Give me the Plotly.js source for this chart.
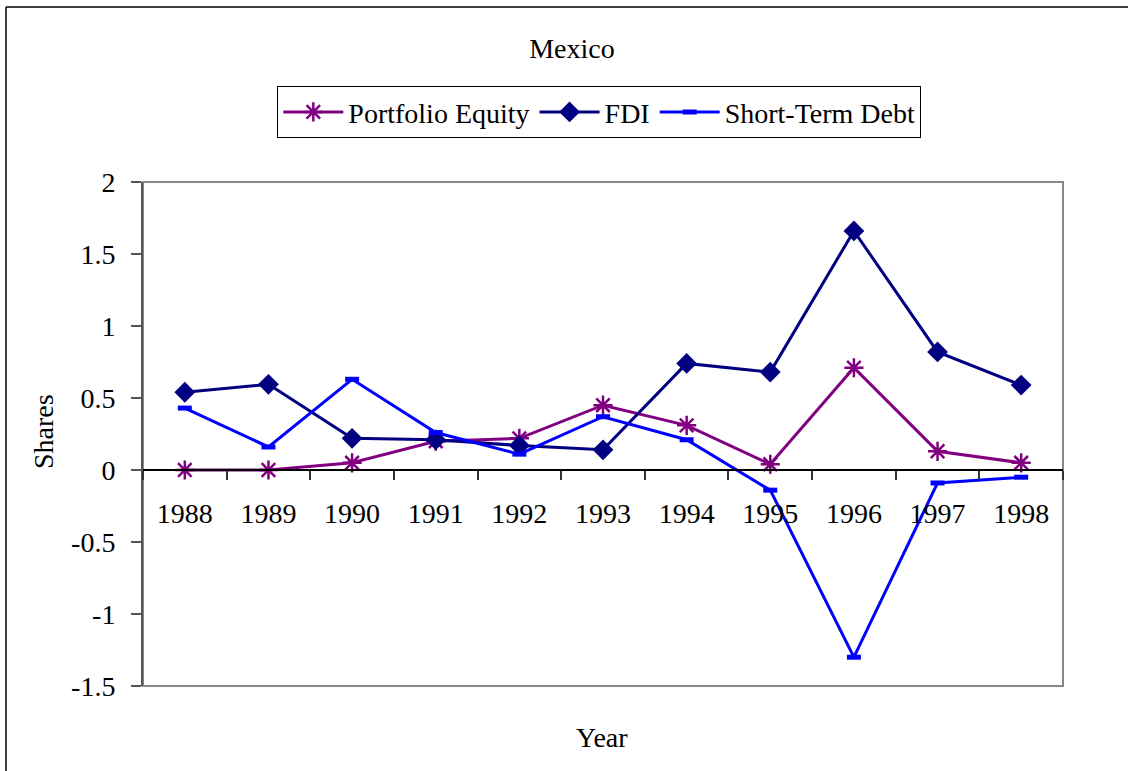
<!DOCTYPE html>
<html>
<head>
<meta charset="utf-8">
<script src="https://cdn.plot.ly/plotly-3.0.1.min.js"></script>
<style>
  html, body { margin: 0; padding: 0; background: #ffffff; }
  #chart { width: 1128px; height: 771px; }
</style>
</head>
<body>
<div id="chart"></div>
<script>
const years = ['1988', '1989', '1990', '1991', '1992', '1993', '1994', '1995', '1996', '1997', '1998'];
const portfolioEquity = [0, 0, 0.05, 0.20, 0.22, 0.45, 0.31, 0.04, 0.71, 0.13, 0.05];
const fdi = [0.54, 0.595, 0.22, 0.21, 0.17, 0.14, 0.74, 0.68, 1.66, 0.82, 0.59];
const shortTermDebt = [0.43, 0.16, 0.63, 0.26, 0.11, 0.37, 0.21, -0.14, -1.30, -0.09, -0.05];
const yTickVals = [-1.5, -1, -0.5, 0, 0.5, 1, 1.5, 2];
const yTickText = ['-1.5', '-1', '-0.5', '0', '0.5', '1', '1.5', '2'];

const FONT = '"Liberation Serif", "Times New Roman", Times, serif';

const traces = [
  {
    x: years, y: portfolioEquity, name: 'Portfolio Equity', type: 'scatter', mode: 'lines+markers',
    line: { color: '#800080', width: 3 },
    marker: { symbol: 'asterisk-open', size: 16, color: '#800080', line: { color: '#800080', width: 2.5 } }
  },
  {
    x: years, y: fdi, name: 'FDI', type: 'scatter', mode: 'lines+markers',
    line: { color: '#000080', width: 3 },
    marker: { symbol: 'diamond', size: 16, color: '#000080' }
  },
  {
    x: years, y: shortTermDebt, name: 'Short-Term Debt', type: 'scatter', mode: 'lines+markers',
    line: { color: '#0000FF', width: 3 },
    marker: { symbol: 'line-ew-open', size: 10, color: '#0000FF', line: { color: '#0000FF', width: 5 } }
  }
];

const layout = {
  width: 1128, height: 771,
  paper_bgcolor: '#ffffff', plot_bgcolor: '#ffffff',
  margin: { l: 143, r: 65, t: 182, b: 85 },
  font: { family: FONT, size: 28, color: '#000000' },
  title: {
    text: 'Mexico', font: { family: FONT, size: 28, color: '#000000' },
    xref: 'container', yref: 'container', x: 0.507, y: 0.938, xanchor: 'center', yanchor: 'middle'
  },
  showlegend: true,
  legend: {
    orientation: 'h', x: 0.496, y: 1.19, xanchor: 'center', yanchor: 'top',
    bordercolor: '#000000', borderwidth: 1, bgcolor: '#ffffff',
    font: { family: FONT, size: 28, color: '#000000' },
    itemwidth: 60, tracegroupgap: 0
  },
  xaxis: {
    type: 'category', range: [-0.5, 10.5], anchor: 'free', position: 1.5 / 3.5,
    showline: true, linecolor: '#000000', linewidth: 1.5,
    ticks: 'outside', tickson: 'boundaries', ticklen: 9, tickcolor: '#333333', tickwidth: 1.5,
    ticklabelstandoff: 19,
    showgrid: false, zeroline: false,
    tickfont: { family: FONT, size: 28, color: '#000000' }
  },
  yaxis: {
    range: [-1.5, 2], tickvals: yTickVals, ticktext: yTickText,
    showline: true, linecolor: '#555555', linewidth: 2,
    ticks: 'outside', ticklen: 10, tickcolor: '#555555', tickwidth: 1.5,
    ticklabelstandoff: 10,
    showgrid: false, zeroline: false,
    tickfont: { family: FONT, size: 28, color: '#000000' }
  },
  shapes: [
    { type: 'rect', xref: 'paper', yref: 'paper', x0: 0, x1: 1, y0: 0, y1: 1,
      line: { color: '#888888', width: 2 }, layer: 'below' },
    { type: 'line', xref: 'paper', yref: 'paper', x0: -0.1489, x1: 1.08, y0: 1.3472, y1: 1.3472,
      line: { color: '#000000', width: 1.5 } },
    { type: 'line', xref: 'paper', yref: 'paper', x0: -0.1489, x1: -0.1489, y0: 1.3472, y1: -0.18,
      line: { color: '#000000', width: 1.5 } }
  ],
  annotations: [
    { text: 'Year', xref: 'paper', yref: 'paper', x: (602 - 143) / 920, y: (686 - 737) / 504,
      xanchor: 'center', yanchor: 'middle', showarrow: false,
      font: { family: FONT, size: 28, color: '#000000' } },
    { text: 'Shares', xref: 'paper', yref: 'paper', x: (43 - 143) / 920, y: (686 - 432) / 504,
      xanchor: 'center', yanchor: 'middle', showarrow: false, textangle: -90,
      font: { family: FONT, size: 28, color: '#000000' } }
  ]
};

Plotly.newPlot('chart', traces, layout, { displayModeBar: false, responsive: false });
</script>
</body>
</html>
